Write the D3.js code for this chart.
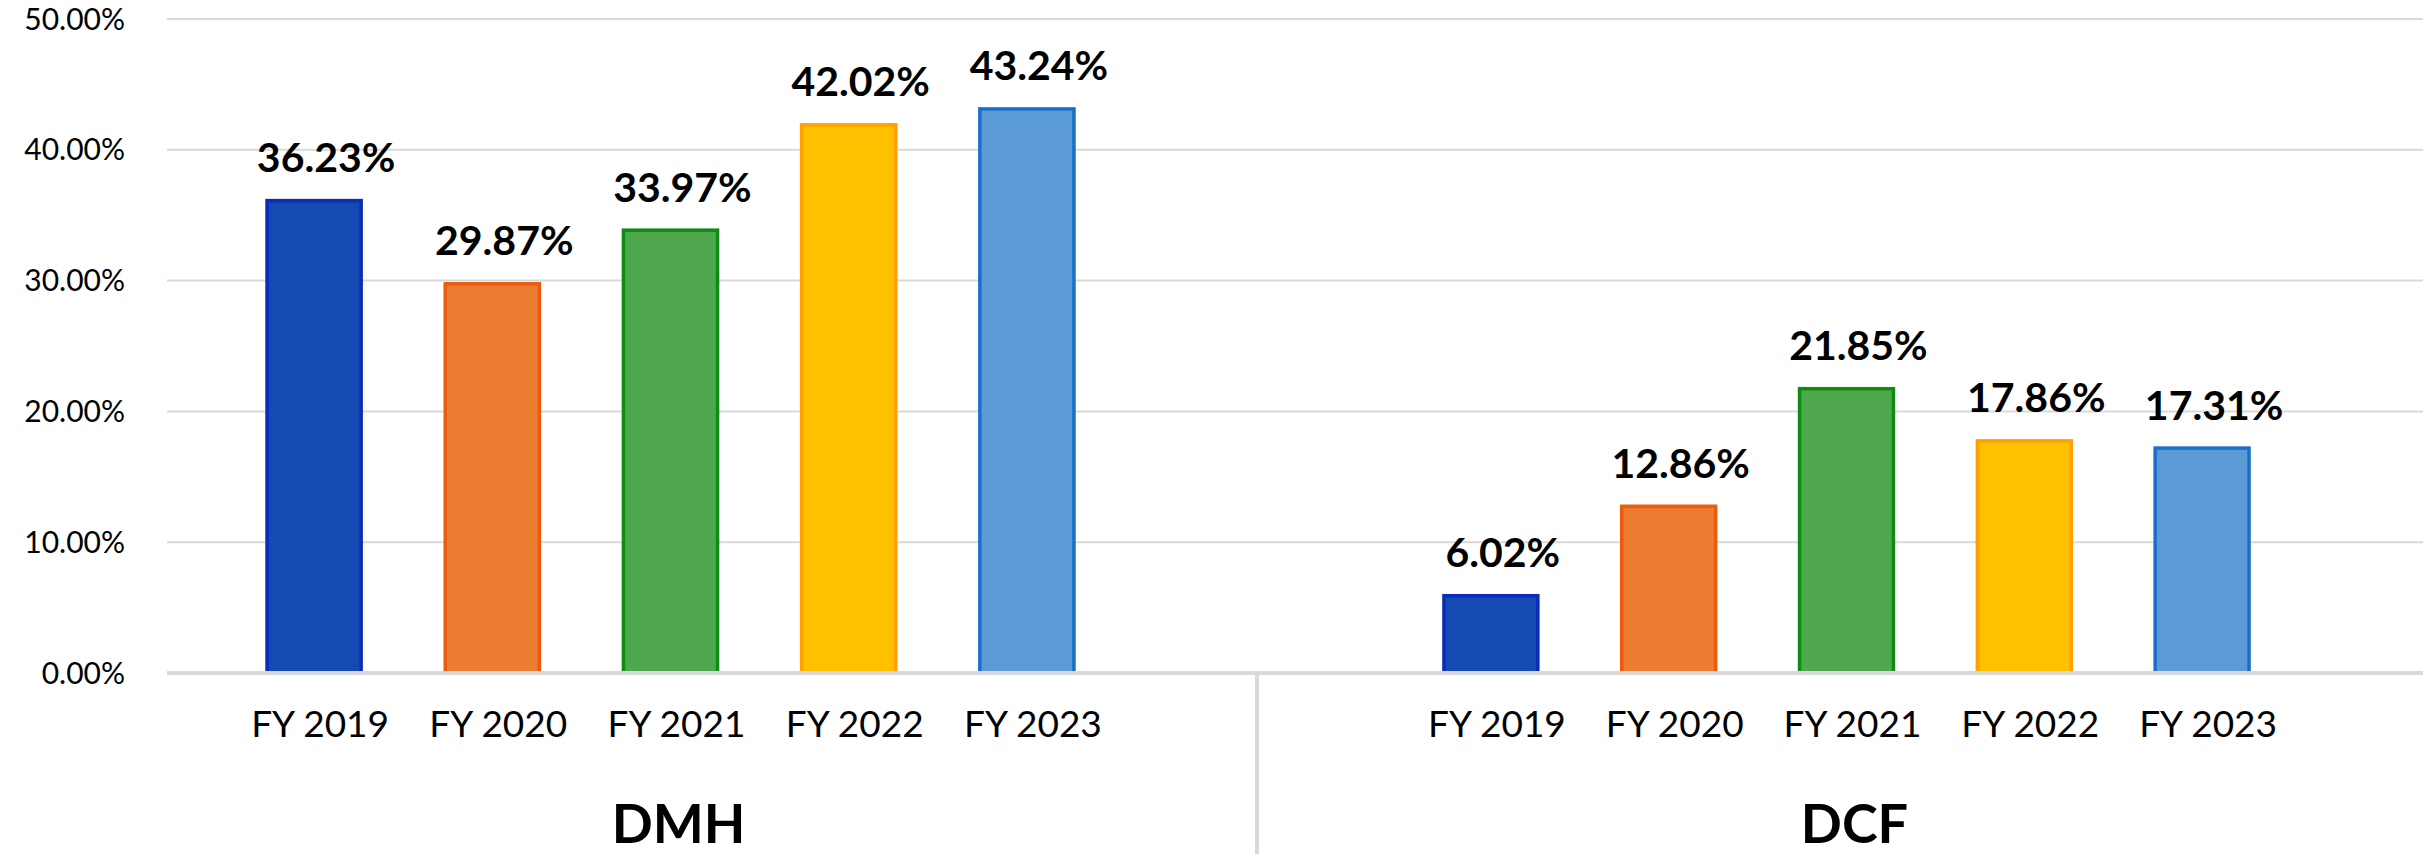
<!DOCTYPE html>
<html>
<head>
<meta charset="utf-8">
<script src="https://cdn.jsdelivr.net/npm/d3@7"></script>
<style>
    body { margin: 0; background: #fff; }
    svg text { font-family: Lato, "Noto Sans", sans-serif; fill: #000; }
</style>
</head>
<body>
<div id="chart"></div>
<script>
// data
var years = ["FY 2019", "FY 2020", "FY 2021", "FY 2022", "FY 2023"];
var groups = ["DMH", "DCF"];
var dmhValues = [36.23, 29.87, 33.97, 42.02, 43.24];
var dcfValues = [6.02, 12.86, 21.85, 17.86, 17.31];
var yTicks = [0, 10, 20, 30, 40, 50];
var fills = ["#164ab3", "#ed7d31", "#4fa84e", "#ffc000", "#5b9bd5"];
var strokes = ["#0a2db8", "#ec5a0c", "#0f8c0f", "#ffa000", "#1c6fc8"];

var width = 2423, height = 854;
var svg = d3.select("#chart").append("svg")
    .attr("width", width)
    .attr("height", height);

var plotLeft = 167, plotRight = width, divider = 1257;

var y = d3.scaleLinear().domain([0, 50]).range([673, 19]);

//one band scale per group, each with its own span
var groupRanges = [[225, 1116], [1402, 2291]];
var groupValues = [dmhValues, dcfValues];

//gridlines
svg.append("g").selectAll("line")
    .data(yTicks.filter(function (d) { return d > 0; }))
    .enter().append("line")
    .attr("x1", plotLeft).attr("x2", plotRight)
    .attr("y1", function (d) { return y(d); })
    .attr("y2", function (d) { return y(d); })
    .attr("stroke", "#d9d9d9")
    .attr("stroke-width", 2);

//y axis labels
svg.append("g").selectAll("text")
    .data(yTicks)
    .enter().append("text")
    .attr("x", 125)
    .attr("y", function (d) { return y(d); })
    .attr("dy", "0.35em")
    .attr("text-anchor", "end")
    .style("font-size", "30px")
    .text(function (d) { return d3.format(".2f")(d) + "%"; });

groups.forEach(function (g, gi) {
    var x = d3.scaleBand()
        .domain(years)
        .range(groupRanges[gi])
        .paddingInner(0.455)
        .paddingOuter(0.2275);
    var vals = groupValues[gi];
    var gg = svg.append("g").attr("class", "group " + g);

    gg.selectAll("rect")
        .data(vals)
        .enter().append("rect")
        .attr("x", function (d, i) { return x(years[i]) + 1.5; })
        .attr("y", function (d) { return y(d) + 1.5; })
        .attr("width", x.bandwidth() - 3)
        .attr("height", function (d) { return y(0) - y(d) - 1.5; })
        .attr("fill", function (d, i) { return fills[i]; })
        .attr("stroke", function (d, i) { return strokes[i]; })
        .attr("stroke-width", 3.5);

    //value labels
    gg.selectAll("text.value")
        .data(vals)
        .enter().append("text")
        .attr("class", "value")
        .attr("x", function (d, i) { return x(years[i]) + x.bandwidth() / 2 + 12; })
        .attr("y", function (d) { return y(d) - 27; })
        .attr("text-anchor", "middle")
        .style("font-size", "41px")
        .style("font-weight", "bold")
        .text(function (d) { return d3.format(".2f")(d) + "%"; });

    //category labels
    gg.selectAll("text.cat")
        .data(years)
        .enter().append("text")
        .attr("class", "cat")
        .attr("x", function (d) { return x(d) + x.bandwidth() / 2 + 6; })
        .attr("y", 737)
        .attr("text-anchor", "middle")
        .style("font-size", "37px")
        .text(function (d) { return d; });

    //group label
    var r = groupRanges[gi];
    gg.append("text")
        .attr("x", (r[0] + r[1]) / 2 + 8)
        .attr("y", 843)
        .attr("text-anchor", "middle")
        .style("font-size", "54px")
        .style("font-weight", "bold")
        .text(g);
});

//baseline + group divider
svg.append("line")
    .attr("x1", plotLeft).attr("x2", plotRight)
    .attr("y1", y(0)).attr("y2", y(0))
    .attr("stroke", "#d9d9d9")
    .attr("stroke-width", 4);
svg.append("line")
    .attr("x1", divider).attr("x2", divider)
    .attr("y1", y(0)).attr("y2", height)
    .attr("stroke", "#d9d9d9")
    .attr("stroke-width", 4);
</script>
</body>
</html>
